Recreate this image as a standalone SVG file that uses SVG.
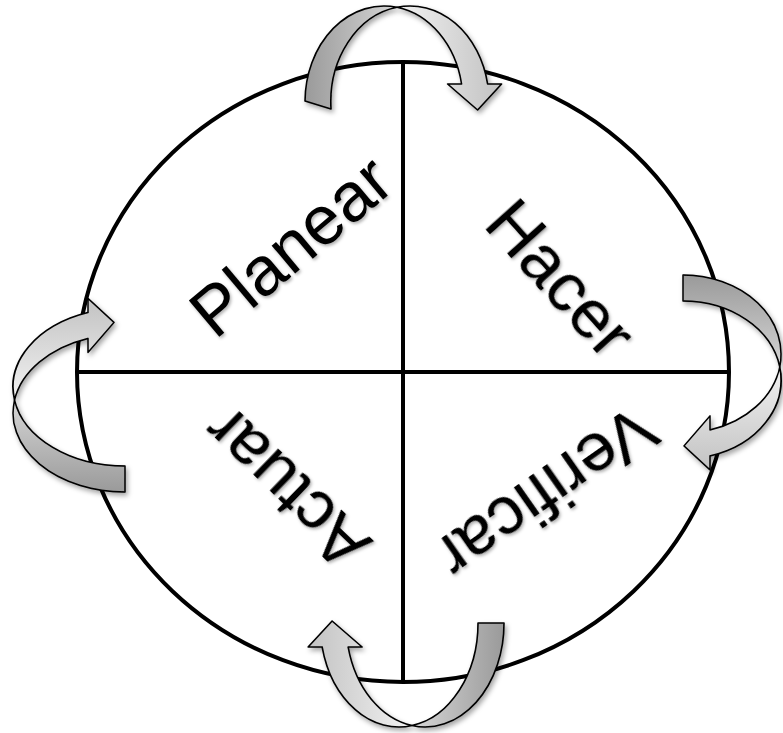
<svg xmlns="http://www.w3.org/2000/svg" width="783" height="733" viewBox="0 0 783 733">
<defs>
<style>
.ln{fill:none;stroke:#000;stroke-width:4}
.lbl{font-family:"Liberation Sans",Arial,Helvetica,sans-serif;font-size:69px;fill:#000;text-anchor:middle}
.band{stroke:#000;stroke-width:1.6;stroke-linejoin:round}
.dark{fill:url(#gDark)}
.light{fill:url(#gLight)}
</style>
<linearGradient id="gDark" x1="0" y1="0" x2="1" y2="0">
<stop offset="0" stop-color="#9a9a9a"/>
<stop offset="1" stop-color="#d6d6d6"/>
</linearGradient>
<linearGradient id="gLight" x1="0" y1="0" x2="1" y2="0">
<stop offset="0" stop-color="#f2f2f2"/>
<stop offset="1" stop-color="#c2c2c2"/>
</linearGradient>
<filter id="sh" x="-20%" y="-20%" width="140%" height="140%">
<feDropShadow dx="2" dy="3" stdDeviation="2.5" flood-color="#000" flood-opacity="0.35"/>
</filter>
<filter id="tsh" x="-10%" y="-10%" width="120%" height="120%">
<feDropShadow dx="1.5" dy="2" stdDeviation="1.5" flood-color="#000" flood-opacity="0.3"/>
</filter>
</defs>
<rect width="783" height="733" fill="#fff"/>

<g id="cycle">
<ellipse class="ln" cx="403" cy="372" rx="326" ry="310" fill="#fff"/>
<line class="ln" x1="77" y1="372" x2="729" y2="372"/>
<line class="ln" x1="403" y1="62" x2="403" y2="682"/>
</g>

<g id="labels" filter="url(#tsh)">
<g id="planear"><text class="lbl" transform="translate(290,245) rotate(-40)" x="0" y="25">Planear</text></g>
<g id="hacer"><text class="lbl" transform="translate(562,277) rotate(48)" x="0" y="25">Hacer</text></g>
<g id="verificar"><text class="lbl" transform="translate(548,494) rotate(145)" x="0" y="25">Verificar</text></g>
<g id="actuar"><text class="lbl" transform="translate(285,490) rotate(224)" x="0" y="25">Actuar</text></g>
</g>

<g id="connectors" filter="url(#sh)">
<g id="arrow-top" transform="translate(397,102)">
<path class="band dark" d="M -92 -1 A 79 96 0 0 1 0 -94.69 A 79 96 0 0 0 -66 7 Z"/>
<path class="band light" d="M 0 -94.69 A 79 96 0 0 1 90.6 -18 L 104.6 -18 L 80.6 8 L 50.6 -18 L 64.6 -18 A 79 96 0 0 0 0 -94.69 Z"/>
</g>
<g id="arrow-right" transform="translate(683,367) rotate(90)">
<path class="band dark" d="M -92 0 A 79 98 0 0 1 0 -96.66 A 79 98 0 0 0 -66 0 Z"/>
<path class="band light" d="M 0 -96.66 A 79 98 0 0 1 88.94 -27 L 102.9 -27 L 78.9 -1 L 48.9 -27 L 62.94 -27 A 79 98 0 0 0 0 -96.66 Z"/>
</g>
<g id="arrow-bottom" transform="translate(412,623) rotate(180)">
<path class="band dark" d="M -92 0 A 79 104 0 0 1 0 -102.58 A 79 104 0 0 0 -66 0 Z"/>
<path class="band light" d="M 0 -102.58 A 79 104 0 0 1 89.87 -24 L 103.9 -24 L 79.9 2 L 49.9 -24 L 63.87 -24 A 79 104 0 0 0 0 -102.58 Z"/>
</g>
<g id="arrow-left" transform="translate(125,400) rotate(270)">
<path class="band dark" d="M -92 0 A 79 112 0 0 1 0 -110.47 A 79 112 0 0 0 -66 0 Z"/>
<path class="band light" d="M 0 -110.47 A 79 112 0 0 1 87.57 -37 L 101.6 -37 L 77.6 -11 L 47.6 -37 L 61.57 -37 A 79 112 0 0 0 0 -110.47 Z"/>
</g>
</g>
</svg>
